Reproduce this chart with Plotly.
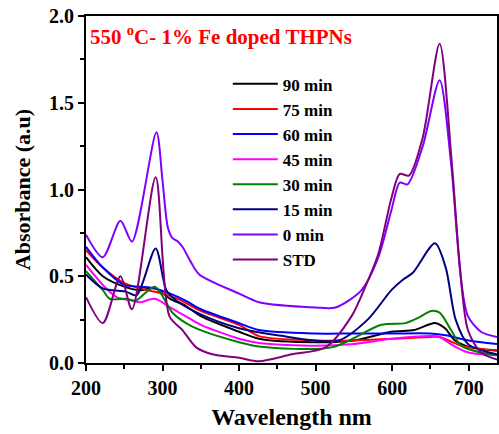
import plotly.graph_objects as go

wl_90 = [200, 222, 250, 270, 290, 310, 330, 350, 400, 426, 500, 550, 599, 629, 656, 669, 682, 703, 737]
ab_90 = [0.61, 0.50, 0.44, 0.42, 0.43, 0.37, 0.33, 0.27, 0.18, 0.14, 0.12, 0.13, 0.18, 0.19, 0.23, 0.20, 0.13, 0.09, 0.07]

wl_75 = [200, 222, 250, 280, 300, 320, 350, 400, 426, 500, 550, 600, 650, 662, 690, 720, 737]
ab_75 = [0.65, 0.55, 0.46, 0.42, 0.40, 0.37, 0.30, 0.22, 0.155, 0.13, 0.13, 0.14, 0.15, 0.15, 0.10, 0.08, 0.075]

wl_60 = [200, 222, 250, 270, 290, 310, 330, 350, 400, 426, 500, 550, 600, 650, 670, 700, 737]
ab_60 = [0.67, 0.55, 0.45, 0.44, 0.43, 0.40, 0.36, 0.31, 0.23, 0.19, 0.17, 0.17, 0.17, 0.17, 0.16, 0.13, 0.11]

wl_45 = [200, 222, 240, 260, 270, 290, 310, 330, 350, 400, 426, 500, 550, 600, 650, 662, 680, 700, 737]
ab_45 = [0.565, 0.45, 0.38, 0.36, 0.35, 0.37, 0.32, 0.27, 0.22, 0.14, 0.115, 0.10, 0.11, 0.14, 0.155, 0.15, 0.10, 0.06, 0.045]

wl_30 = [200, 222, 231, 253, 265, 290, 313, 339, 400, 426, 521, 586, 617, 634, 651, 662, 677, 690, 716, 737]
ab_30 = [0.53, 0.42, 0.37, 0.37, 0.36, 0.44, 0.29, 0.21, 0.12, 0.095, 0.09, 0.22, 0.23, 0.26, 0.30, 0.29, 0.19, 0.10, 0.06, 0.045]

wl_15 = [200, 222, 253, 266, 291, 305, 318, 350, 400, 450, 530, 568, 599, 614, 627, 656, 670, 683, 699, 737]
ab_15 = [0.51, 0.43, 0.41, 0.39, 0.66, 0.42, 0.36, 0.28, 0.20, 0.16, 0.13, 0.25, 0.42, 0.48, 0.52, 0.69, 0.55, 0.25, 0.11, 0.05]

wl_0 = [200, 222, 245, 260, 292, 300, 307, 313, 320, 326, 336, 348, 400, 426, 500, 526, 560, 582, 599, 610, 620, 640, 662, 677, 690, 699, 716, 737]
ab_0 = [0.74, 0.61, 0.82, 0.70, 1.33, 1.05, 0.78, 0.72, 0.70, 0.67, 0.59, 0.51, 0.40, 0.35, 0.32, 0.32, 0.42, 0.61, 0.88, 1.04, 1.03, 1.25, 1.63, 1.15, 0.48, 0.27, 0.18, 0.15]

wl_std = [200, 222, 245, 260, 291, 309, 326, 344, 365, 400, 426, 469, 513, 547, 565, 582, 599, 610, 622, 640, 662, 678, 688, 699, 716, 737]
ab_std = [0.38, 0.23, 0.50, 0.31, 1.07, 0.27, 0.19, 0.09, 0.05, 0.03, 0.01, 0.05, 0.09, 0.27, 0.44, 0.63, 0.95, 1.09, 1.08, 1.30, 1.84, 1.15, 0.58, 0.19, 0.06, 0.02]

series = [
    ("90 min", wl_90, ab_90, "#000000"),
    ("75 min", wl_75, ab_75, "#FF0000"),
    ("60 min", wl_60, ab_60, "#0000FF"),
    ("45 min", wl_45, ab_45, "#FF00FF"),
    ("30 min", wl_30, ab_30, "#008000"),
    ("15 min", wl_15, ab_15, "#000080"),
    ("0 min", wl_0, ab_0, "#8000FF"),
    ("STD", wl_std, ab_std, "#800080"),
]

FONT = "Liberation Serif"

fig = go.Figure()
for name, x, y, c in series:
    fig.add_trace(go.Scatter(x=x, y=y, name=name, mode="lines",
                             line=dict(color=c, width=2, shape="spline", smoothing=0.8)))

axis_common = dict(
    showline=True, linecolor="black", linewidth=2, mirror=True,
    ticks="outside", tickcolor="black", tickwidth=2, ticklen=6,
    showgrid=False, zeroline=False,
    tickfont=dict(family=FONT, size=20, color="black", weight="bold"),
)

fig.update_layout(
    width=499, height=434,
    margin=dict(l=86, r=0, t=16, b=71),
    plot_bgcolor="white", paper_bgcolor="white",
    font=dict(family=FONT, color="black"),
    xaxis=dict(range=[200, 737], tickvals=[200, 300, 400, 500, 600, 700],
               minor=dict(dtick=50, tick0=200, ticks="outside", ticklen=4, tickwidth=2, tickcolor="black"),
               title=dict(text="Wavelength nm", font=dict(family=FONT, size=24, weight="bold"), standoff=10),
               **axis_common),
    yaxis=dict(range=[0, 2.0], tickvals=[0, 0.5, 1.0, 1.5, 2.0], tickformat=".1f",
               minor=dict(dtick=0.25, tick0=0, ticks="outside", ticklen=4, tickwidth=2, tickcolor="black"),
               title=dict(text="Absorbance (a.u)", font=dict(family=FONT, size=22, weight="bold"), standoff=12),
               **axis_common),
    legend=dict(x=0.345, y=0.855, xanchor="left", yanchor="top",
                bgcolor="rgba(0,0,0,0)", borderwidth=0,
                font=dict(family=FONT, size=17, color="black", weight="bold"),
                itemwidth=45, tracegroupgap=0),
    showlegend=True,
)

fig.add_annotation(text="550 <sup>o</sup>C- 1% Fe doped THPNs", xref="paper", yref="paper",
                   x=0.005, y=0.945, xanchor="left", yanchor="middle", showarrow=False,
                   font=dict(family=FONT, size=21, color="#FF0000", weight="bold"))

fig.write_html("out.html")
